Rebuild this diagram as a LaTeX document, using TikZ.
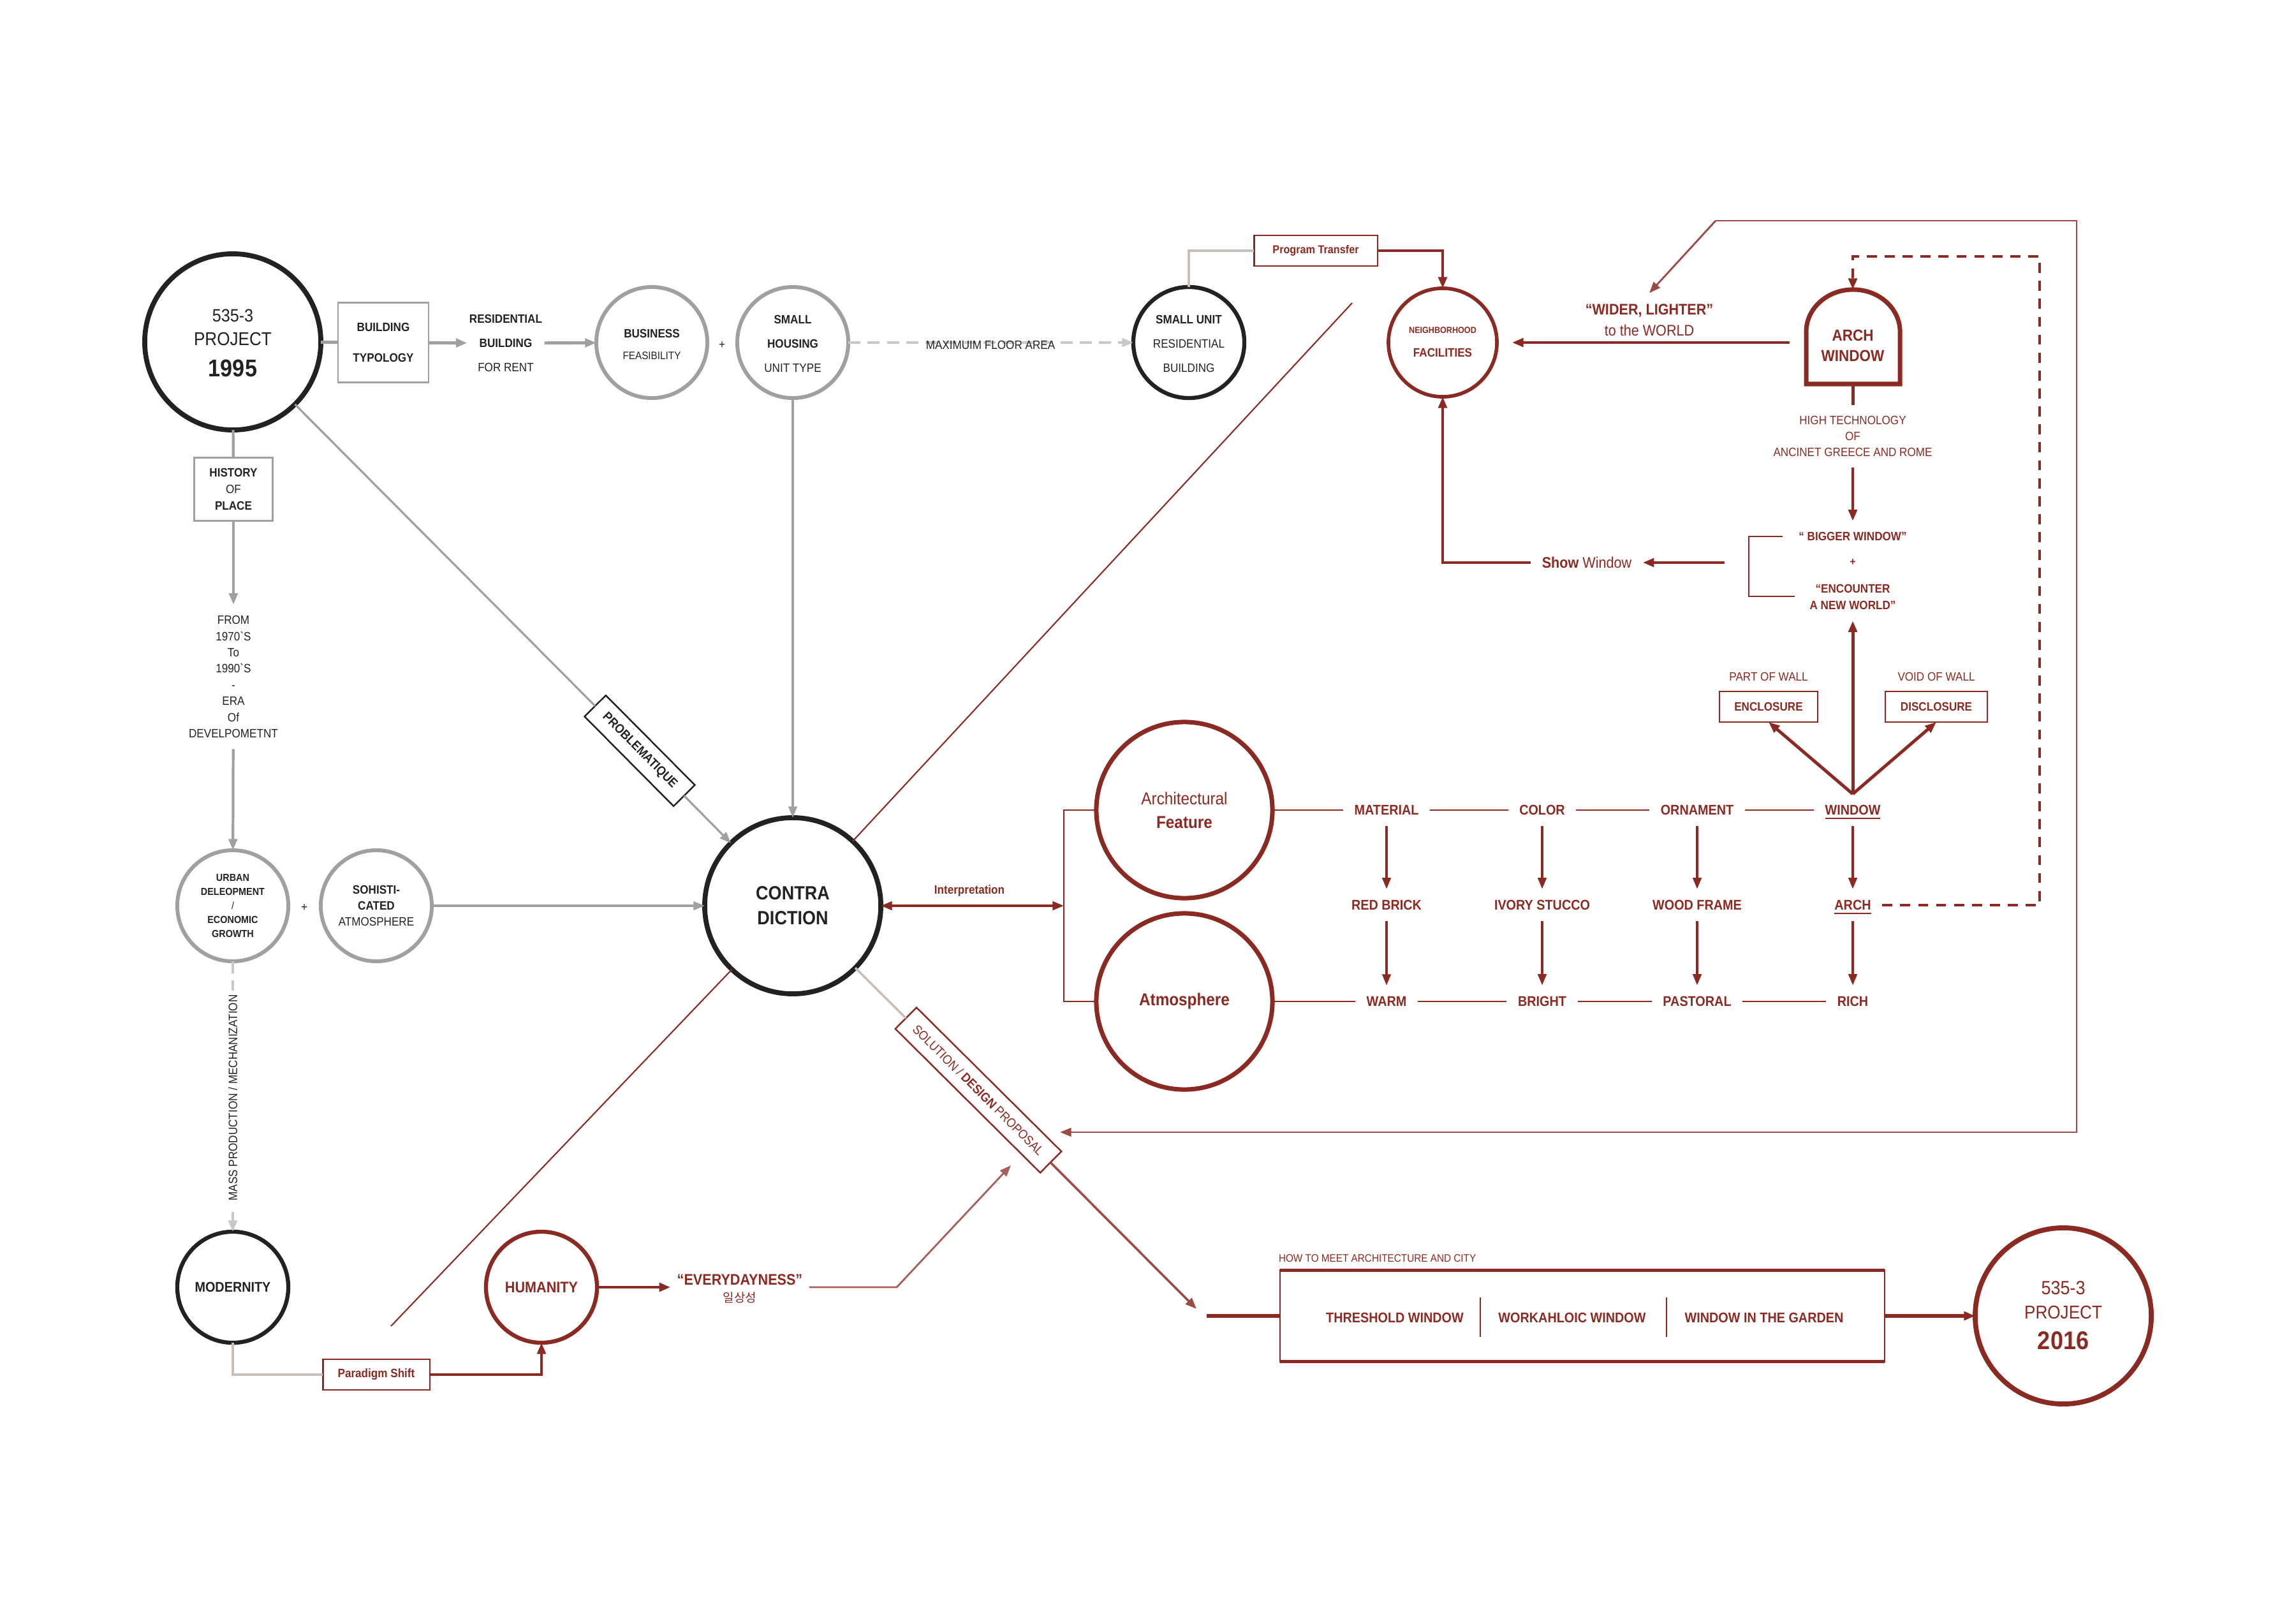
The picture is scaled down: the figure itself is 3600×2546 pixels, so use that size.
\documentclass[tikz,border=0pt]{standalone}
\usepackage{fontspec}
\usetikzlibrary{arrows.meta,calc}
\newfontfamily\myfont{Liberation Sans}[FakeStretch=0.9]
\newfontfamily\korfont{Noto Sans CJK KR}
\definecolor{rd}{RGB}{139,42,34}
\definecolor{gy}{RGB}{160,160,160}
\definecolor{bk}{RGB}{34,34,34}
\definecolor{lt}{RGB}{201,190,186}
\definecolor{dg}{RGB}{200,200,200}
\newcommand\fsz[2]{\myfont\fontsize{\fpeval{#1*0.2845}pt}{\fpeval{#2*0.2845}pt}\selectfont}
\begin{document}
\begin{tikzpicture}[x=0.01cm,y=-0.01cm, >={Triangle[length=5pt,width=3.8pt]},
  every node/.style={inner sep=0pt,outer sep=0pt},
  bigc/.style={circle,minimum size=2.76cm},
  smc/.style={circle,minimum size=1.74cm},
  bkc/.style={draw=bk,line width=2.2pt},
  gyc/.style={draw=gy,line width=1.7pt},
  rdc/.style={draw=rd,line width=2pt},
  tb/.style={text=bk},
  tr/.style={text=rd},
  glin/.style={draw=gy,line width=1.2pt},
  gar/.style={draw=gy,line width=1.2pt,->},
  gthin/.style={draw=gy,line width=0.9pt,->},
  rthin/.style={draw=rd,line width=0.6pt},
  rmid/.style={draw=rd,line width=1.2pt},
  ltl/.style={draw=lt,line width=1.2pt},
  lab/.style={text=rd,font={\fsz{22}{26}\bfseries},inner sep=5pt,text depth=0pt},
  rbox/.style={draw=rd,line width=0.6pt,minimum height=0.48cm},
]
\fill[white] (0,0) rectangle (3600,2546);
\path[use as bounding box] (0,0) rectangle (3600,2546);

% ---------- top row ----------
\node[bigc,bkc] (p95) at (365,536) {};
\node[tb,font=\fsz{28}{30}] (p95a) at (365,495) {535-3};
\node[tb,font=\fsz{29}{30}] (p95b) at (365,532) {PROJECT};
\node[tb,font={\fsz{38}{40}\bfseries}] (p95c) at (365,577) {1995};
\node[draw=gy,line width=0.6pt,minimum width=1.42cm,minimum height=1.25cm,tb,font={\fsz{19}{48}\bfseries},align=center] (bty) at (601,537) {BUILDING\\TYPOLOGY};
\node[tb,font={\fsz{19}{38}},align=center,inner sep=1pt] (res) at (793,538) {\textbf{RESIDENTIAL}\\\textbf{BUILDING}\\FOR RENT};
\node[smc,gyc] (bus) at (1022,537) {};
\node[tb,font={\fsz{19}{20}\bfseries}] (busa) at (1022,523) {BUSINESS};
\node[tb,font=\fsz{17}{20}] (busb) at (1022,558) {FEASIBILITY};
\node[tb,font=\fsz{19}{20}] (pl1) at (1132,541) {+};
\node[smc,gyc] (shu) at (1243,537) {};
\node[tb,font={\fsz{19}{38}},align=center] (shut) at (1243,539) {\textbf{SMALL}\\\textbf{HOUSING}\\UNIT TYPE};
\node[smc,bkc,line width=1.8pt] (sun) at (1864,537) {};
\node[tb,font={\fsz{19}{38}},align=center] (sunt) at (1864,539) {\textbf{SMALL UNIT}\\RESIDENTIAL\\BUILDING};
\node[rbox,minimum width=1.93cm,tr,font={\fsz{18}{20}\bfseries}] (prg) at (2063,393) {Program Transfer};
\node[circle,minimum size=1.7cm,draw=rd,line width=1.6pt] (nei) at (2262,537) {};
\node[tr,font={\fsz{14}{16}\bfseries}] (neia) at (2262,518) {NEIGHBORHOOD};
\node[tr,font={\fsz{19}{20}\bfseries}] (neib) at (2262,553) {FACILITIES};
\node[tr,font={\fsz{24}{33}},align=center,inner sep=5pt] (wider) at (2586,502) {\textbf{“WIDER, LIGHTER”}\\to the WORLD};

% arch window
\node[minimum width=1.47cm,minimum height=1.48cm] (archw) at (2905,528) {};
\draw[rd,line width=2pt] (2832,602) -- (2832,520) arc[start angle=180,end angle=0,x radius=0.735cm,y radius=0.66cm] -- (2979,602) -- cycle;
\node[tr,font={\fsz{25}{32}\bfseries},align=center] (archt) at (2905,542) {ARCH\\WINDOW};
\node[tr,font={\fsz{19}{25}},align=center,inner sep=5pt] (ht) at (2905,684) {HIGH TECHNOLOGY\\OF\\ANCINET GREECE AND ROME};
\node[tr,font={\fsz{19}{22}\bfseries},inner sep=5pt] (big) at (2905,841) {“ BIGGER WINDOW”};
\node[tr,font={\fsz{17}{20}\bfseries}] (pl3) at (2905,882) {+};
\node[tr,font={\fsz{19}{26}\bfseries},align=center,inner sep=5pt] (encw) at (2905,936) {“ENCOUNTER\\A NEW WORLD”};
\node[tr,font={\fsz{24}{26}},inner sep=5pt] (show) at (2488,882) {\textbf{Show} Window};
\node[tr,font=\fsz{19}{22}] (partw) at (2773,1061) {PART OF WALL};
\node[tr,font=\fsz{19}{22}] (voidw) at (3036,1061) {VOID OF WALL};
\node[rbox,minimum width=1.54cm,tr,font={\fsz{19}{22}\bfseries}] (enc) at (2773,1108) {ENCLOSURE};
\node[rbox,minimum width=1.6cm,tr,font={\fsz{19}{22}\bfseries}] (dis) at (3036,1108) {DISCLOSURE};

% ---------- middle ----------
\node[bigc,rdc] (arf) at (1857,1270) {};
\node[tr,font=\fsz{27}{30}] (arfa) at (1857,1252) {Architectural};
\node[tr,font={\fsz{27}{30}\bfseries}] (arfb) at (1857,1289) {Feature};
\node[bigc,rdc] (atm) at (1857,1570) {};
\node[tr,font={\fsz{27}{30}\bfseries}] (atmt) at (1857,1570) {Atmosphere};
\node[lab] (mat) at (2174,1270) {MATERIAL};
\node[lab] (col) at (2418,1270) {COLOR};
\node[lab] (orn) at (2661,1270) {ORNAMENT};
\node[lab] (win) at (2905,1270) {\underline{WINDOW}};
\node[lab] (rb) at (2174,1419) {RED BRICK};
\node[lab] (ivs) at (2418,1419) {IVORY STUCCO};
\node[lab] (wf) at (2661,1419) {WOOD FRAME};
\node[lab] (arch) at (2905,1419) {\underline{ARCH}};
\node[lab] (warm) at (2174,1570) {WARM};
\node[lab] (bri) at (2418,1570) {BRIGHT};
\node[lab] (pas) at (2661,1570) {PASTORAL};
\node[lab] (rich) at (2905,1570) {RICH};

\node[bigc,bkc] (con) at (1243,1420) {};
\node[tb,font={\fsz{30}{39}\bfseries},align=center] (cont) at (1243,1420) {CONTRA\\DICTION};
\node[tr,font={\fsz{19}{22}\bfseries}] (interp) at (1520,1397) {Interpretation};
\coordinate (brk) at (1668,1420);

% ---------- left column ----------
\node[draw=gy,line width=0.6pt,minimum width=1.23cm,minimum height=0.99cm,tb,font={\fsz{19}{26}},align=center] (hist) at (366,767) {\textbf{HISTORY}\\OF\\\textbf{PLACE}};
\node[tb,font=\fsz{19}{25.4},align=center,inner sep=5pt] (from) at (366,1061) {FROM\\1970`S\\To\\1990`S\\-\\ERA\\Of\\DEVELPOMETNT};
\node[smc,gyc] (urb) at (365,1420) {};
\node[tb,font={\fsz{16}{22}\bfseries},align=center] (urbt) at (365,1420) {URBAN\\DELEOPMENT\\{\mdseries /}\\ECONOMIC\\GROWTH};
\node[tb,font=\fsz{19}{20}] (pl2) at (477,1423) {+};
\node[smc,gyc] (sop) at (590,1420) {};
\node[tb,font={\fsz{19}{25}},align=center] (sopt) at (590,1420) {\textbf{SOHISTI-}\\\textbf{CATED}\\ATMOSPHERE};
\node[smc,bkc,line width=1.8pt] (mod) at (365,2018) {};
\node[tb,font={\fsz{22}{24}\bfseries}] (modt) at (365,2018) {MODERNITY};
\node[smc,rdc,line width=1.8pt] (hum) at (849,2018) {};
\node[tr,font={\fsz{24}{26}\bfseries}] (humt) at (849,2018) {HUMANITY};
\node[tr,font={\fsz{24}{26}\bfseries},inner sep=3pt] (every) at (1160,2006) {“EVERYDAYNESS”};
\node[tr,font={\fsz{19}{22}\korfont}] (ilsang) at (1160,2034) {일상성};
\node[rbox,minimum width=1.67cm,tr,font={\fsz{19}{22}\bfseries}] (par) at (590,2155) {Paradigm Shift};

% ---------- angled labels ----------
\node[draw=bk,line width=0.7pt,fill=white,minimum width=1.98cm,minimum height=0.47cm,rotate=-45.2,tb,font={\fsz{20}{22}\bfseries}] (prob) at (1003,1177) {PROBLEMATIQUE};
\node[draw=rd,line width=0.7pt,fill=white,minimum width=3.2cm,minimum height=0.47cm,rotate=-44.8,tr,font={\fsz{20}{22}}] (sol) at (1534,1709) {SOLUTION / \textbf{DESIGN} PROPOSAL};

% ---------- bottom ----------
\node[tr,font=\fsz{17}{20},anchor=west] (howto) at (2005,1973) {HOW TO MEET ARCHITECTURE AND CITY};
\node[draw=rd,line width=0.7pt,minimum width=9.47cm,minimum height=1.43cm] (hwbox) at (2481,2063) {};
\draw[rd,line width=1.6pt] (hwbox.north west) -- (hwbox.north east);
\draw[rd,line width=1.6pt] (hwbox.south west) -- (hwbox.south east);
\draw[rd,line width=0.5pt] (2321,2034) -- (2321,2096);
\draw[rd,line width=0.5pt] (2613,2034) -- (2613,2096);
\node[tr,font={\fsz{22}{24}\bfseries}] (thr) at (2187,2066) {THRESHOLD WINDOW};
\node[tr,font={\fsz{22}{24}\bfseries}] (wor) at (2465,2066) {WORKAHLOIC WINDOW};
\node[tr,font={\fsz{22}{24}\bfseries}] (gar) at (2766,2066) {WINDOW IN THE GARDEN};
\node[bigc,rdc,line width=2.2pt] (p16) at (3235,2063) {};
\node[tr,font=\fsz{30}{32}] (p16a) at (3235,2019) {535-3};
\node[tr,font=\fsz{29}{32}] (p16b) at (3235,2057) {PROJECT};
\node[tr,font={\fsz{40}{42}\bfseries}] (p16c) at (3235,2102) {2016};

% ---------- coordinates ----------
\coordinate (ne1) at (2120,475);
\coordinate (sw1) at (613,2079);
\coordinate (fr0) at (2690,346);
\coordinate (fr1) at (3256,346);
\coordinate (fr2) at (3256,1775);
\coordinate (fr3) at (1662,1775);
\coordinate (dz1) at (3198,1419);
\coordinate (dz2) at (3198,402);
\coordinate (dz3) at (2905,402);
\coordinate (b1) at (2795,841);
\coordinate (b2) at (2742,841);
\coordinate (b3) at (2742,935);
\coordinate (b4) at (2814,935);
\coordinate (sw0) at (2704,882);
\coordinate (ev2) at (1406,2018);
\coordinate (ev3) at (1585,1827);
\coordinate (soltip) at (1876,2052);
\coordinate (hw0) at (1892,2063);
\coordinate (aw0) at (2806,537);

% ---------- connectors ----------
\draw[gy,line width=1.4pt] (p95) -- (bty);
\draw[gar,line width=1.4pt] (bty) -- (res);
\draw[gar,line width=1.4pt] (res) -- (bus);
\draw[dg,line width=1.3pt,dash pattern=on 5.4pt off 3.2pt,->] (shu) -- (sun);
\node[tb,font=\fsz{19}{22}] (maxfl) at (1553,541) {MAXIMUIM FLOOR AREA};
\draw[ltl] (sun.north) |- (prg.west);
\draw[rd,line width=1.4pt,->] (prg.east) -| (nei.north);
\draw[gthin] (shu) -- (con);
\draw[gy,line width=0.9pt] (p95) -- (prob);
\draw[gthin] (prob) -- (con);
\draw[glin] (p95) -- (hist);
\draw[gar] (hist) -- (from);
\draw[gar] (from) -- (urb);
\draw[dg,line width=1.2pt,dash pattern=on 5.4pt off 3.2pt,->] (urb) -- (mod);
\node[tb,font=\fsz{19}{22},fill=white,rotate=90,inner sep=2pt] (mass) at (365,1721) {MASS PRODUCTION / MECHANIZATION};
\draw[gthin] (sop) -- (con);
\draw[ltl] (mod.south) |- (par.west);
\draw[rd,line width=1.4pt,->] (par.east) -| (hum.south);
\draw[rd,line width=1.4pt,->] (hum) -- (hum -| every.west);
\draw[rd!75,line width=0.8pt,->] (hum -| every.east) -- (ev2) -- (ev3);
\draw[rthin] (con) -- (ne1);
\draw[rthin] (con) -- (sw1);
\draw[rd,line width=1.1pt,<->] (con) -- (brk);
\draw[rthin] (arf.west) -| (brk) |- (atm.west);
\draw[rthin] (arf) -- (mat);
\draw[rthin] (mat) -- (col);
\draw[rthin] (col) -- (orn);
\draw[rthin] (orn) -- (win);
\draw[rthin] (atm) -- (warm);
\draw[rthin] (warm) -- (bri);
\draw[rthin] (bri) -- (pas);
\draw[rthin] (pas) -- (rich);
\foreach \a/\b in {mat/rb,col/ivs,orn/wf,win/arch,rb/warm,ivs/bri,wf/pas,arch/rich}
  \draw[rd,line width=1pt,->] (\a) -- (\b);
\draw[rmid,line width=1.4pt,->] (win.north) -- (enc.south);
\draw[rmid,line width=1.4pt,->] (win.north) -- (dis.south);
\draw[rmid,line width=1.4pt,->] (win.north) -- (encw.south);
\draw[rd,line width=1.3pt,dash pattern=on 4.5pt off 3.5pt,->] (arch.east) -- (dz1) -- (dz2) -- (dz3) -- (archw.north);
\draw[rmid,line width=1.4pt] (archw.south) -- (ht.north);
\draw[rmid,->] (ht.south) -- (big.north);
\draw[rthin] (b1) -- (b2) -- (b3) -- (b4);
\draw[rmid,->] (sw0) -- (show.east);
\draw[rmid,->] (show.west) -| (nei.south);
\draw[rmid,->,shorten >=6.8pt] (aw0) -- (nei.east);
\draw[rd!85,line width=0.8pt,->] (fr0) -- (wider.north);
\draw[rd!85,line width=0.8pt,->] (fr0) -- (fr1) -- (fr2) -- (fr3);
\draw[ltl,line width=1pt] (con) -- (sol);
\draw[rd!85,line width=1pt,->] (sol) -- (soltip);
\draw[rd,line width=1.6pt] (hw0) -- (hwbox.west);
\draw[rd,line width=1.6pt,->] (hwbox.east) -- (p16);
\end{tikzpicture}
\end{document}
